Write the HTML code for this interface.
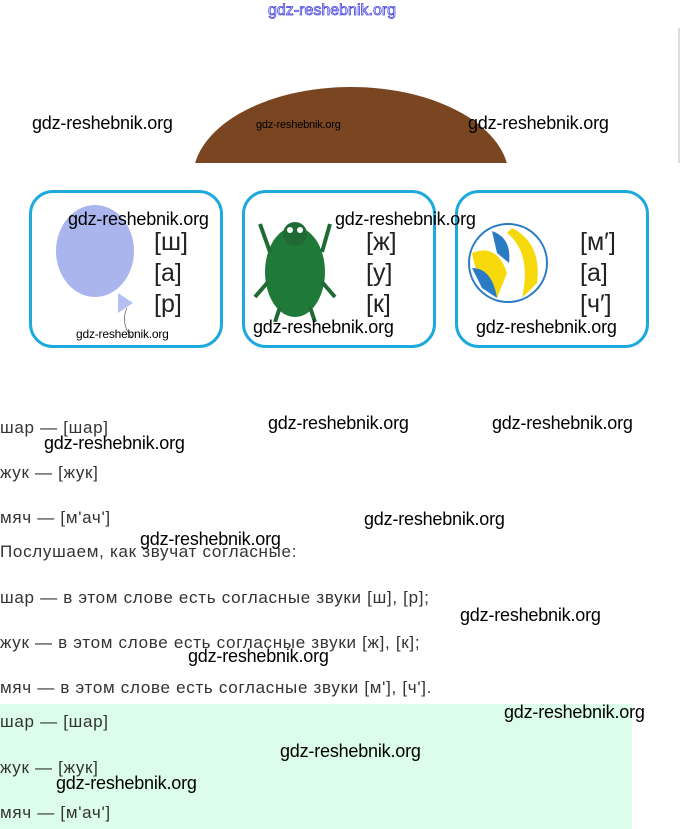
<!DOCTYPE html>
<html><head><meta charset="utf-8"><style>
body{margin:0;width:680px;height:829px;position:relative;background:#fff;overflow:hidden;font-family:"Liberation Sans",sans-serif}
.a{position:absolute;white-space:nowrap}
.w{position:absolute;white-space:nowrap;font-family:"Liberation Sans Narrow","Liberation Sans",sans-serif;font-size:18px;color:#000;letter-spacing:-0.2px}
.t{position:absolute;white-space:nowrap;font-size:17px;color:#333;left:0;letter-spacing:0.7px}
.card{position:absolute;top:190px;width:188px;height:152px;border:3px solid #1ea9dd;border-radius:24px}
.ph{position:absolute;font-size:25px;color:#222;line-height:31px}
</style></head><body>
<div class="a" style="left:268px;top:2px;font-size:16px;color:#fff;-webkit-text-stroke:0.8px #44d;font-family:'Liberation Sans Narrow',sans-serif">gdz-reshebnik.org</div>
<div class="a" style="left:678px;top:28px;width:2px;height:135px;background:#ddd"></div>
<svg class="a" style="left:0;top:0" width="680" height="163"><ellipse cx="351" cy="178" rx="158" ry="91" fill="#7a4521"/></svg>
<div class="card" style="left:29px"></div>
<div class="card" style="left:242px"></div>
<div class="card" style="left:455px"></div>
<svg class="a" style="left:50px;top:198px" width="110" height="145"><ellipse cx="45" cy="53" rx="39" ry="46" fill="#aab5ee"/><path d="M68 95 L83 105 L68 115 Z" fill="#b5bff0"/><path d="M77 110 Q70 125 82 140" stroke="#555" fill="none" stroke-width="0.7"/></svg>
<svg class="a" style="left:250px;top:212px" width="95" height="110"><ellipse cx="45" cy="60" rx="30" ry="45" fill="#1f7a3a"/><circle cx="45" cy="22" r="12" fill="#1f6a35"/><circle cx="40" cy="18" r="3" fill="#fff"/><circle cx="50" cy="18" r="3" fill="#fff"/><path d="M10 12 L20 40 M80 12 L72 40 M5 85 L18 70 M85 85 L72 70 M25 110 L30 95 M65 110 L60 95" stroke="#1f6a35" stroke-width="4"/></svg>
<svg class="a" style="left:467px;top:223px" width="82" height="82"><circle cx="41" cy="40" r="39" fill="#fff" stroke="#2a7bc4" stroke-width="2"/><path d="M5 30 Q30 20 40 50 L30 75 Q10 60 5 30Z" fill="#f5d90a"/><path d="M45 5 Q75 20 70 60 L55 75 Q65 30 40 10Z" fill="#f5d90a"/><path d="M5 45 Q25 45 30 75 L15 65Z" fill="#2a7bc4"/><path d="M25 8 Q45 15 42 40 L30 30Z" fill="#2a7bc4"/></svg>
<div class="ph" style="left:154px;top:227px">[ш]<br>[а]<br>[р]</div>
<div class="ph" style="left:366px;top:227px">[ж]<br>[у]<br>[к]</div>
<div class="ph" style="left:580px;top:227px">[м′]<br>[а]<br>[ч′]</div>
<div class="w" style="left:32px;top:113px">gdz-reshebnik.org</div>
<div class="w" style="left:256px;top:119px;font-size:11px">gdz-reshebnik.org</div>
<div class="w" style="left:468px;top:113px">gdz-reshebnik.org</div>
<div class="w" style="left:68px;top:209px">gdz-reshebnik.org</div>
<div class="w" style="left:335px;top:209px">gdz-reshebnik.org</div>
<div class="w" style="left:76px;top:327px;font-size:12px">gdz-reshebnik.org</div>
<div class="w" style="left:253px;top:317px">gdz-reshebnik.org</div>
<div class="w" style="left:476px;top:317px">gdz-reshebnik.org</div>
<div class="a" style="left:0;top:704px;width:632px;height:125px;background:#dcfde9"></div>
<div class="t" style="top:418px">шар — [шар]</div>
<div class="t" style="top:463px">жук — [жук]</div>
<div class="t" style="top:508px">мяч — [м'ач']</div>
<div class="t" style="top:542px">Послушаем, как звучат согласные:</div>
<div class="t" style="top:588px">шар — в этом слове есть согласные звуки [ш], [р];</div>
<div class="t" style="top:633px">жук — в этом слове есть согласные звуки [ж], [к];</div>
<div class="t" style="top:678px">мяч — в этом слове есть согласные звуки [м'], [ч'].</div>
<div class="t" style="top:712px">шар — [шар]</div>
<div class="t" style="top:758px">жук — [жук]</div>
<div class="t" style="top:803px">мяч — [м'ач']</div>
<div class="w" style="left:268px;top:413px">gdz-reshebnik.org</div>
<div class="w" style="left:492px;top:413px">gdz-reshebnik.org</div>
<div class="w" style="left:44px;top:433px">gdz-reshebnik.org</div>
<div class="w" style="left:364px;top:509px">gdz-reshebnik.org</div>
<div class="w" style="left:140px;top:529px">gdz-reshebnik.org</div>
<div class="w" style="left:460px;top:605px">gdz-reshebnik.org</div>
<div class="w" style="left:188px;top:646px">gdz-reshebnik.org</div>
<div class="w" style="left:504px;top:702px">gdz-reshebnik.org</div>
<div class="w" style="left:280px;top:741px">gdz-reshebnik.org</div>
<div class="w" style="left:56px;top:773px">gdz-reshebnik.org</div>
</body></html>
